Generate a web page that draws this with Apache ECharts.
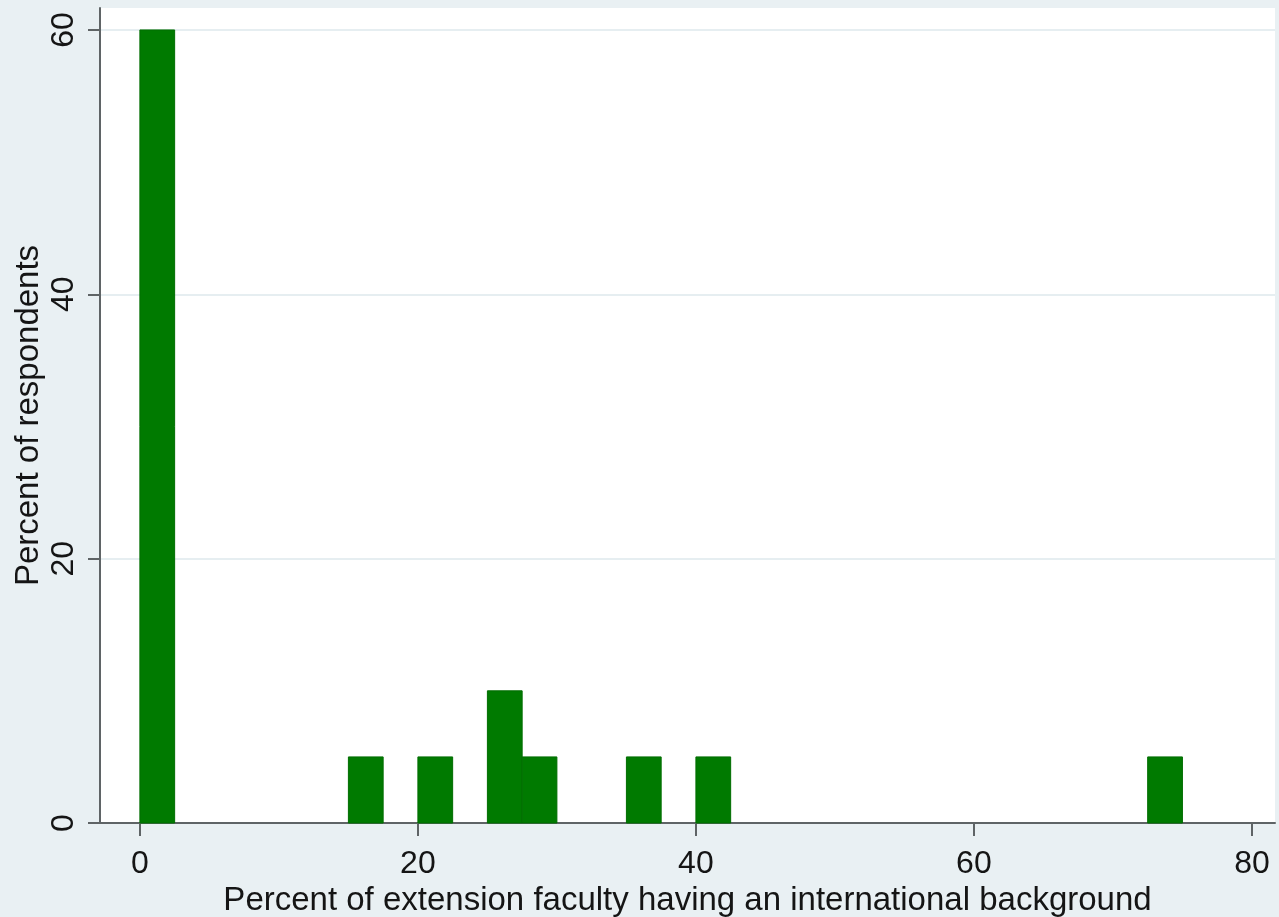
<!DOCTYPE html>
<html>
<head>
<meta charset="utf-8">
<script src="https://cdn.jsdelivr.net/npm/echarts@6/dist/echarts.min.js"></script>
<style>
  html, body { margin: 0; padding: 0; background: #e9f0f3; }
  #chart { width: 1279px; height: 917px; }
</style>
</head>
<body>
<div id="chart"></div>
<script>
// Histogram bins (width 2.5) of the share of extension faculty with an international background
const binStart = [0, 15, 20, 25, 27.5, 35, 40, 72.5];
const binEnd   = [2.5, 17.5, 22.5, 27.5, 30, 37.5, 42.5, 75];
const percentRespondents = [60, 5, 5, 10, 5, 5, 5, 5];

const xTicks = [0, 20, 40, 60, 80];
const yTicks = [0, 20, 40, 60];

const xTitle = 'Percent of extension faculty having an international background';
const yTitle = 'Percent of respondents';

const bins = binStart.map((s, i) => [s, binEnd[i], percentRespondents[i]]);

const chart = echarts.init(document.getElementById('chart'));
const textColor = '#151515';
const axisColor = '#5f6466';
const font = 'Liberation Sans, Arial, sans-serif';

chart.setOption({
  backgroundColor: '#e9f0f3',
  animation: false,
  grid: {
    left: 100, top: 8, right: 4, bottom: 94,
    outerBoundsMode: 'none',
    containLabel: false,
    show: true, backgroundColor: '#ffffff', borderWidth: 0
  },
  xAxis: {
    type: 'value',
    min: -2.87, max: 81.66,
    name: xTitle,
    nameLocation: 'middle',
    nameGap: 60,
    nameTextStyle: { color: textColor, fontSize: 33, fontFamily: font },
    axisLine: { show: true, onZero: false, lineStyle: { color: axisColor, width: 2 } },
    axisTick: { show: true, length: 13, customValues: xTicks, lineStyle: { color: axisColor, width: 2 } },
    axisLabel: { customValues: xTicks, color: textColor, fontSize: 32, fontFamily: font, margin: 25 },
    splitLine: { show: false }
  },
  yAxis: {
    type: 'value',
    min: 0, max: 61.66,
    name: yTitle,
    nameLocation: 'middle',
    nameGap: 55,
    nameMoveOverlap: false,
    nameTextStyle: { color: textColor, fontSize: 33, fontFamily: font },
    axisLine: { show: true, onZero: false, lineStyle: { color: axisColor, width: 2 } },
    axisTick: { show: true, length: 12, customValues: yTicks, lineStyle: { color: axisColor, width: 2 } },
    axisLabel: { customValues: yTicks, rotate: 90, color: textColor, fontSize: 32, fontFamily: font, margin: 20 },
    splitLine: { show: true, lineStyle: { color: '#e6eef1', width: 2 } }
  },
  series: [{
    type: 'custom',
    data: bins,
    encode: { x: [0, 1], y: 2 },
    renderItem: function (params, api) {
      const p0 = api.coord([api.value(0), api.value(2)]);
      const p1 = api.coord([api.value(1), 0]);
      return {
        type: 'rect',
        shape: { x: p0[0], y: p0[1], width: p1[0] - p0[0], height: p1[1] - p0[1] },
        style: { fill: '#007a00', stroke: '#006d00', lineWidth: 1 }
      };
    }
  }]
});
</script>
</body>
</html>
